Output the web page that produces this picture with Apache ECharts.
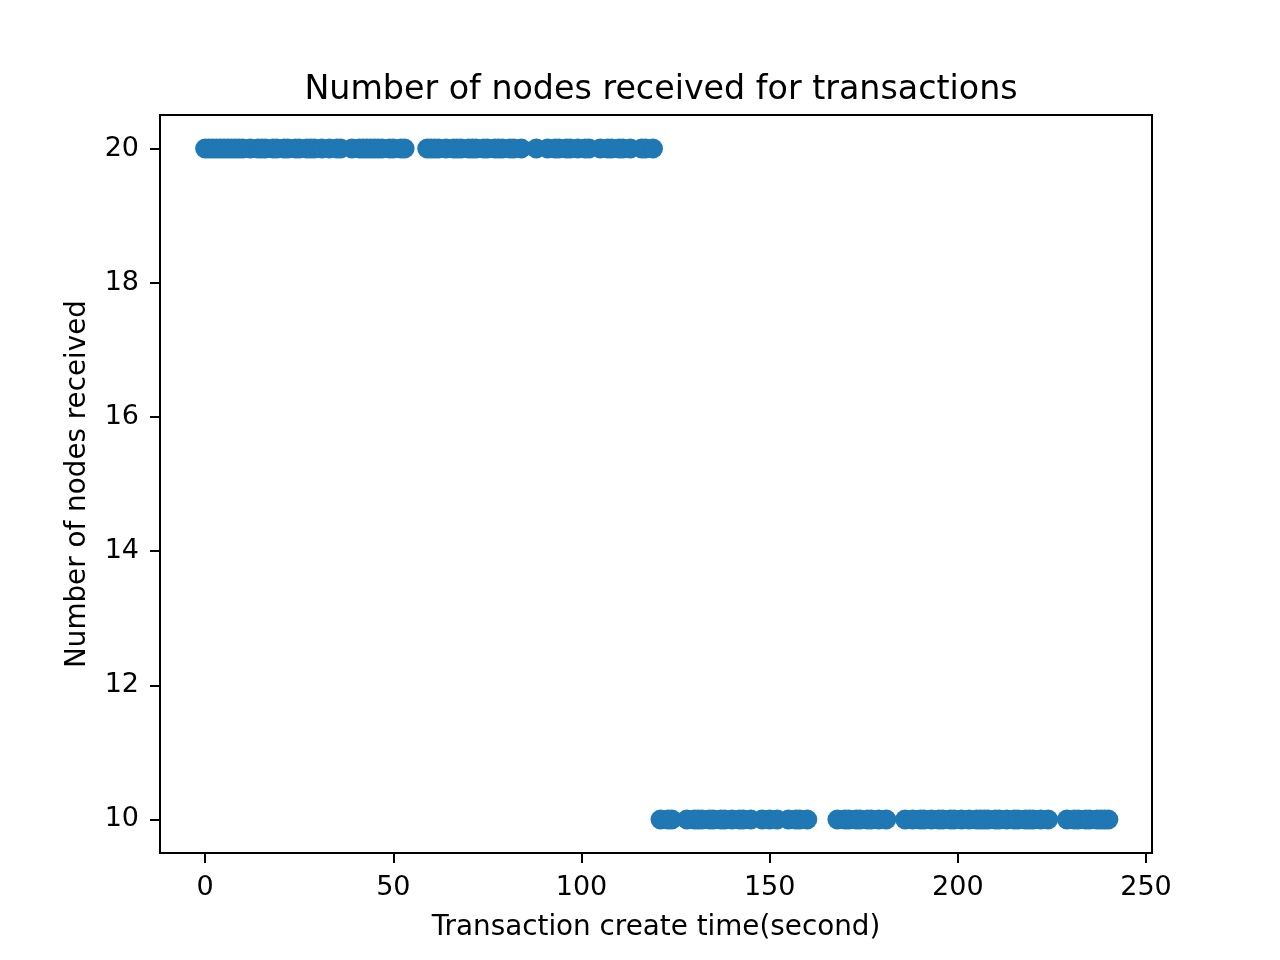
<!DOCTYPE html>
<html>
<head>
<meta charset="utf-8">
<script src="https://cdn.jsdelivr.net/npm/echarts@6/dist/echarts.min.js"></script>
<style>
  body { margin: 0; background: #fff; }
  #chart { width: 1280px; height: 960px; }
</style>
</head>
<body>
<div id="chart"></div>
<script>
// transaction create times (seconds) for the two levels
const timesHigh = [0, 1, 2, 3, 4, 5, 6, 7, 8, 9, 10, 12, 14, 15, 16, 18, 19, 21, 22, 24, 25, 27, 28, 29, 31,
  33, 35, 36, 39, 41, 42, 43, 44, 45, 46, 47, 49, 50, 52, 53, 59, 60, 61, 62, 64, 66, 67, 68, 70, 71, 72, 74,
  75, 77, 78, 79, 81, 82, 84, 88, 91, 93, 94, 96, 97, 99, 101, 102, 105, 107, 108, 110, 111, 113, 116, 117, 119]
const timesLow = [121, 123, 124, 128, 130, 131, 132, 134, 135, 137, 138, 140, 142, 143, 145, 148, 150, 152,
  155, 157, 158, 160, 168, 170, 171, 173, 174, 176, 177, 179, 181, 186, 188, 190, 191, 193, 195, 196, 198,
  199, 201, 203, 205, 206, 207, 208, 210, 211, 213, 215, 216, 218, 219, 220, 222, 224, 229, 231, 232, 234, 235,
  237, 238, 239, 240]
const nodesHigh = 20
const nodesLow = 10
const xTicks = [0, 50, 100, 150, 200, 250]
const yTicks = [10, 12, 14, 16, 18, 20]

let points = []
timesHigh.forEach(t => points.push([t, nodesHigh]))
timesLow.forEach(t => points.push([t, nodesLow]))

let chart = echarts.init(document.getElementById('chart'))
const font = 'DejaVu Sans'

let option = {
  animation: false,
  title: {
    text: 'Number of nodes received for transactions',
    left: 656,
    textAlign: 'center',
    top: 69,
    textStyle: { fontFamily: font, fontSize: 33.3, fontWeight: 'normal', color: '#000' }
  },
  grid: {
    left: 160, right: 128, top: 115, bottom: 107,
    show: true, borderColor: '#000', borderWidth: 2
  },
  xAxis: {
    type: 'value',
    min: -12,
    max: 251.6,
    name: 'Transaction create time(second)',
    nameLocation: 'middle',
    nameGap: 61,
    nameTextStyle: { fontFamily: font, fontSize: 27.8, color: '#000' },
    axisLine: { show: true, onZero: false, lineStyle: { color: '#000', width: 2 } },
    axisTick: { show: true, length: 10, lineStyle: { color: '#000', width: 2 }, customValues: xTicks },
    axisLabel: { fontFamily: font, fontSize: 27, color: '#000', margin: 21, customValues: xTicks },
    splitLine: { show: false }
  },
  yAxis: {
    type: 'value',
    min: 9.5,
    max: 20.5,
    name: 'Number of nodes received',
    nameLocation: 'middle',
    nameGap: 68,
    nameTextStyle: { fontFamily: font, fontSize: 27.8, color: '#000' },
    axisLine: { show: true, onZero: false, lineStyle: { color: '#000', width: 2 } },
    axisTick: { show: true, length: 10, lineStyle: { color: '#000', width: 2 }, customValues: yTicks },
    axisLabel: { fontFamily: font, fontSize: 27, color: '#000', margin: 21, customValues: yTicks },
    splitLine: { show: false }
  },
  series: [
    {
      type: 'scatter',
      data: points,
      symbol: 'circle',
      symbolSize: 20,
      itemStyle: { color: '#1f77b4', opacity: 1 }
    }
  ]
}

option && chart.setOption(option)
</script>
</body>
</html>
